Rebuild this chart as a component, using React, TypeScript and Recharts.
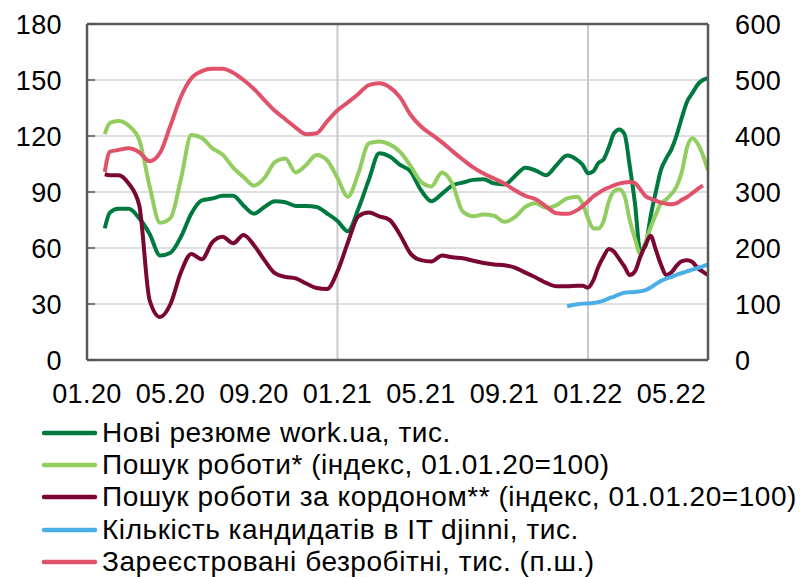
import React from 'react';
import { LineChart, Line, XAxis, YAxis, CartesianGrid, ReferenceLine } from 'recharts';

const FONT = '"Liberation Sans", Arial, sans-serif';

// x position in months since 01.2020
const months = [0.85, 1.1, 1.5, 2, 2.5, 3, 3.5, 4, 4.5, 5, 5.5, 6, 6.5, 7, 7.5, 8, 8.5, 9, 9.5, 10, 10.5, 11, 11.5, 12, 12.5, 13, 13.5, 14, 14.5, 15, 15.5, 16, 16.5, 17, 17.5, 18, 18.5, 19, 19.5, 20, 20.5, 21, 21.5, 22, 22.5, 23, 23.5, 23.75, 24, 24.25, 24.5, 24.75, 25, 25.25, 25.5, 25.75, 26, 26.25, 26.5, 26.75, 27, 27.25, 27.5, 27.75, 28, 28.25, 28.5, 28.75, 29, 29.25, 29.5, 29.75];

const newResumes = [70.5, 79, 81, 81, 76, 67.5, 56, 57.5, 66, 78.5,
  85.5, 86.5, 88, 88, 82.7, 78.4, 82, 85, 84.5, 82.5,
  82.5, 82, 78.5, 74.5, 69, 81, 96.5, 110.7, 109, 104.5,
  101, 91, 85, 89, 93.5, 95, 96.5, 96.8, 94.6, 94,
  98.5, 103, 101.5, 99, 104.5, 109.5, 107, 104.5, 100, 101,
  105.5, 107.5, 114, 121.5, 123.5, 121, 104, 84, 59, 61,
  77, 90, 102, 108, 113, 120.5, 130, 138.5, 143, 147.5, 150, 151];

const jobSearch = [121, 127, 128, 125.5, 118, 93, 73.5, 76, 97, 120.5,
  119, 113.5, 110, 103, 98, 93.4, 97.5, 106, 108, 100.5,
  104.5, 109.8, 107, 97.5, 87.5, 100, 116, 117, 115.5, 111.5,
  104, 95.5, 93, 100.5, 94.5, 79.5, 77, 78, 77.3, 74,
  76.5, 82, 84, 81.5, 83, 86.6, 87.5, 83.5, 76, 70.5,
  70.5, 74.5, 85, 90.5, 91.5, 88, 75, 65, 57, 63,
  71, 78, 84, 86, 89, 93, 101, 114, 118.75, 116, 110, 101.5];

const jobSearchAbroad = [99.5, 99, 99, 94.5, 83, 32, 23, 30, 47, 56.8,
  54, 63, 66, 62.5, 67, 61.5, 53.5, 46.5, 44.5, 43.7,
  41, 38.6, 38, 47.5, 63, 77, 79, 77, 75, 67,
  57, 53.5, 52.8, 56, 55, 54.5, 53.2, 52, 51.2, 50.8,
  49.5, 46.8, 44.2, 41.3, 39.5, 39.5, 39.8, 39.8, 38.8, 42.5,
  50, 55.5, 59.5, 58, 54, 50, 45.5, 47.5, 55, 61.5,
  66.5, 59, 51, 45.5, 47, 50.5, 53, 53.4, 52.5, 49.3, 47.3, 45.5];

const itCandidates = [null, null, null, null, null, null, null, null, null, null,
  null, null, null, null, null, null, null, null, null, null,
  null, null, null, null, null, null, null, null, null, null,
  null, null, null, null, null, null, null, null, null, null,
  null, null, null, null, null, 28.8, 29.9, 30.2, 30.3, 30.5,
  31, 31.8, 33, 34, 35.2, 36, 36.3, 36.4, 36.8, 37.4,
  38.8, 40.7, 42.4, 43.6, 44.6, 45.6, 46.6, 47.5, 48.4, 49.2, 50.2, 51.2];

const unemployed = [336, 372, 375, 378, 371, 355, 370, 419, 470, 503,
  516, 520, 520, 513, 500, 484, 464, 445, 430, 415,
  403, 405, 426, 446, 460, 475, 491, 494, 487, 469,
  438, 417, 403, 389, 373, 358, 344, 333, 324, 315,
  303, 293, 287, 274, 262, 261, 268, 275, 283, 292,
  298, 304, 308, 312, 315, 317, 318, 316, 305, 293,
  288, 284.5, 281, 279, 278, 280, 286, 291, 298, 305, 312, null];

const xTicks = [0, 4, 8, 12, 16, 20, 24, 28];
const xTickLabels = ['01.20', '05.20', '09.20', '01.21', '05.21', '09.21', '01.22', '05.22'];
const leftTicks = [0, 30, 60, 90, 120, 150, 180];
const rightTicks = [0, 100, 200, 300, 400, 500, 600];

const seriesNames = [
  'Нові резюме work.ua, тис.',
  'Пошук роботи* (індекс, 01.01.20=100)',
  'Пошук роботи за кордоном** (індекс, 01.01.20=100)',
  'Кількість кандидатів в IT djinni, тис.',
  'Зареєстровані безробітні, тис. (п.ш.)',
];
const seriesColors = ['#00793f', '#92cd5f', '#7a0733', '#4aafe6', '#e0516a'];

const data = months.map((m, i) => ({
  m,
  dg: newResumes[i],
  lg: jobSearch[i],
  mr: jobSearchAbroad[i],
  bl: itCandidates[i],
  rd: unemployed[i],
}));

const axisStyle = { stroke: '#595959', strokeWidth: 2.5 };
const tickStyle = { fill: '#000', fontSize: 27, fontFamily: FONT, letterSpacing: 0.4 };

function LegendBlock() {
  return (
    <div style={{ position: 'absolute', left: 0, top: 417, fontFamily: FONT }}>
      {seriesNames.map((name, i) => (
        <div key={name} style={{ display: 'flex', alignItems: 'center', height: 32.2 }}>
          <svg width={102} height={10} style={{ display: 'block' }}>
            <line x1={44} y1={5} x2={95} y2={5} stroke={seriesColors[i]} strokeWidth={4.5} strokeLinecap="round" />
          </svg>
          <span style={{ fontSize: 28, letterSpacing: 0.55, color: '#000', whiteSpace: 'nowrap', lineHeight: '32px' }}>{name}</span>
        </div>
      ))}
    </div>
  );
}

export default function App() {
  return (
    <div style={{ position: 'absolute', left: 0, top: 0, width: 803, height: 577, background: '#fff', fontFamily: FONT }}>
      <LineChart width={803} height={420} data={data} margin={{ top: 24, right: 0, bottom: 20, left: 0 }}>
        <CartesianGrid yAxisId="l" vertical={false} stroke="#bfbfbf" strokeWidth={1} />
        <ReferenceLine yAxisId="l" x={12} stroke="#c5c9ce" strokeWidth={2} />
        <ReferenceLine yAxisId="l" x={24} stroke="#c5c9ce" strokeWidth={2} />
        <XAxis
          dataKey="m"
          type="number"
          domain={[0, 29.75]}
          allowDataOverflow
          ticks={xTicks}
          interval={0}
          tickFormatter={(v: number) => xTickLabels[xTicks.indexOf(v)]}
          height={40}
          tickLine={false}
          tickSize={0}
          tickMargin={24}
          axisLine={axisStyle}
          tick={tickStyle}
        />
        <YAxis
          yAxisId="l"
          orientation="left"
          width={87}
          domain={[0, 180]}
          ticks={leftTicks}
          interval={0}
          tickSize={-8}
          tickMargin={33}
          tickLine={{ stroke: '#595959', strokeWidth: 1.5 }}
          axisLine={axisStyle}
          tick={tickStyle}
        />
        <YAxis
          yAxisId="r"
          orientation="right"
          width={95}
          domain={[0, 600]}
          ticks={rightTicks}
          interval={0}
          tickSize={0}
          tickMargin={27}
          tickLine={false}
          axisLine={axisStyle}
          tick={tickStyle}
        />
        <ReferenceLine yAxisId="l" y={180} stroke="#595959" strokeWidth={2.5} />
        <Line yAxisId="l" dataKey="dg" type="monotone" stroke={seriesColors[0]} strokeWidth={4} dot={false} isAnimationActive={false} strokeLinejoin="round" />
        <Line yAxisId="l" dataKey="lg" type="monotone" stroke={seriesColors[1]} strokeWidth={4} dot={false} isAnimationActive={false} strokeLinejoin="round" />
        <Line yAxisId="l" dataKey="mr" type="monotone" stroke={seriesColors[2]} strokeWidth={4} dot={false} isAnimationActive={false} strokeLinejoin="round" />
        <Line yAxisId="l" dataKey="bl" type="monotone" stroke={seriesColors[3]} strokeWidth={4} dot={false} isAnimationActive={false} strokeLinejoin="round" />
        <Line yAxisId="r" dataKey="rd" type="monotone" stroke={seriesColors[4]} strokeWidth={4} dot={false} isAnimationActive={false} strokeLinejoin="round" />
      </LineChart>
      <LegendBlock />
    </div>
  );
}
